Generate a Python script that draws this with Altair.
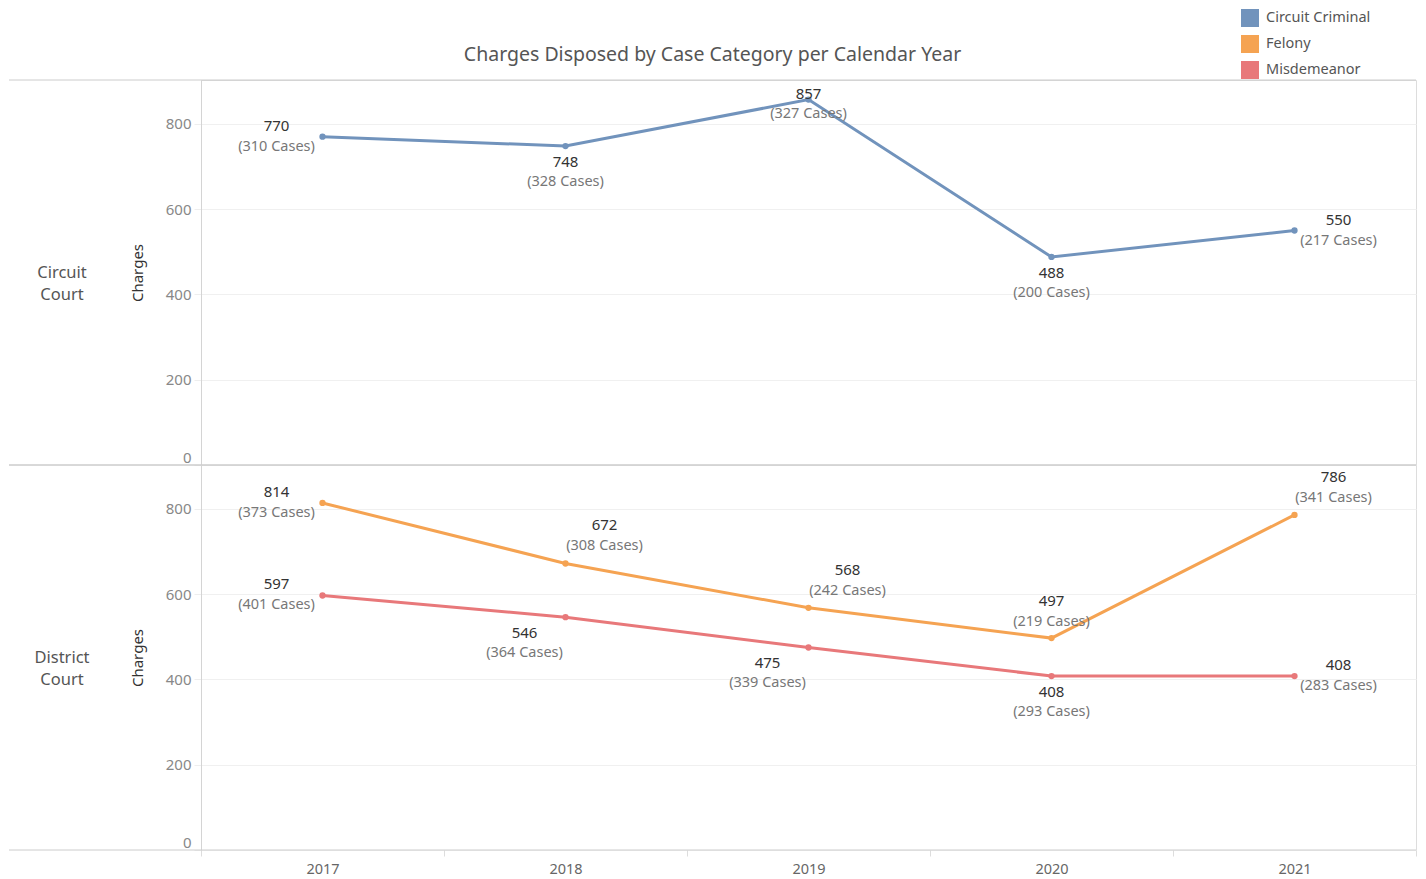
import altair as alt
import pandas as pd

# ---------------- data ----------------
years = ["2017", "2018", "2019", "2020", "2021"]

circuit_criminal_charges = [770, 748, 857, 488, 550]
circuit_criminal_cases = [310, 328, 327, 200, 217]

felony_charges = [814, 672, 568, 497, 786]
felony_cases = [373, 308, 242, 219, 341]

misdemeanor_charges = [597, 546, 475, 408, 408]
misdemeanor_cases = [401, 364, 339, 293, 283]

courts = ["Circuit Court", "District Court"]
series_names = ["Circuit Criminal", "Felony", "Misdemeanor"]
series_colors = ["#7193BC", "#F5A352", "#E8787A"]

# label placement per point (as in the reference)
circuit_criminal_pos = ["left", "below", "center", "below", "right"]
felony_pos = ["left", "above_right", "above_right", "above", "above_right"]
misdemeanor_pos = ["left", "below_left", "below_left", "below", "right"]

rows = []
for court, name, ch, cs, pos in [
    ("Circuit Court", "Circuit Criminal", circuit_criminal_charges, circuit_criminal_cases, circuit_criminal_pos),
    ("District Court", "Felony", felony_charges, felony_cases, felony_pos),
    ("District Court", "Misdemeanor", misdemeanor_charges, misdemeanor_cases, misdemeanor_pos),
]:
    for y, c, k, p in zip(years, ch, cs, pos):
        rows.append({"court": court, "series": name, "year": y, "charges": c, "cases": k, "pos": p})
df = pd.DataFrame(rows)

# ---------------- style ----------------
FONT = "Noto Sans"
W = 1215
H = 385
LEFT = 192
YMAX = 903

offsets = {
    "left": (-46, -11, 10),
    "right": (44, -11, 10),
    "below": (0, 16, 36),
    "below_left": (-41, 16, 36),
    "above": (0, -37, -16),
    "above_right": (39, -38, -17),
    "center": (0, -6, 14),
}

color = alt.Color(
    "series:N",
    scale=alt.Scale(domain=series_names, range=series_colors),
    legend=alt.Legend(
        title=None, orient="none", legendX=1040, legendY=-71,
        symbolType="square", symbolSize=324, symbolStrokeWidth=0, symbolOpacity=1,
        labelFont=FONT, labelFontSize=14.5, labelColor="#555555",
        rowPadding=8, labelOffset=7, padding=0,
    ),
)


def panel(court, bottom):
    d = df[df.court == court]
    base = alt.Chart(d)
    if bottom:
        xaxis = alt.Axis(
            title=None, labelAngle=0, labelFont=FONT, labelFontSize=14.5, labelColor="#666666",
            domain=False, ticks=True, tickColor="#dddddd", tickSize=6, tickBand="extent",
            labelPadding=6, grid=False,
        )
    else:
        xaxis = None
    x = alt.X("year:N", sort=years, scale=alt.Scale(type="band", paddingInner=0, paddingOuter=0), axis=xaxis)
    y = alt.Y(
        "charges:Q",
        scale=alt.Scale(domain=[0, YMAX], nice=False, zero=True),
        axis=alt.Axis(
            title="Charges", titleFont=FONT, titleFontSize=15, titleColor="#333333",
            titleFontWeight="normal", titlePadding=20,
            values=[0, 200, 400, 600, 800], labelFont=FONT, labelFontSize=15,
            labelColor="#888888", labelPadding=3, labelFlush=True, labelFlushOffset=0,
            tickColor="#eeeeee", tickSize=7,
            grid=True, gridColor="#f0f0f0",
            domain=True, domainColor="#d4d4d4",
        ),
    )
    line = base.mark_line(strokeWidth=3).encode(x=x, y=y, color=color, detail="series:N")
    pts = base.mark_circle(size=40, opacity=1).encode(
        x=x, y=y, color=alt.Color("series:N", scale=alt.Scale(domain=series_names, range=series_colors), legend=None)
    )
    layers = [line, pts]
    for pos, (dx, dy1, dy2) in offsets.items():
        sub = base.transform_filter(alt.datum.pos == pos)
        layers.append(
            sub.mark_text(dx=dx, dy=dy1, font=FONT, fontSize=15, color="#333333", align="center", baseline="middle")
            .encode(x=x, y=y, text="charges:Q")
        )
        layers.append(
            sub.transform_calculate(lab="'(' + datum.cases + ' Cases)'")
            .mark_text(dx=dx, dy=dy2, font=FONT, fontSize=14.5, color="#777777", align="center", baseline="middle")
            .encode(x=x, y=y, text="lab:N")
        )
    one = alt.Chart(pd.DataFrame({"court": [court]}))
    layers.append(
        one.mark_text(font=FONT, fontSize=16.5, color="#555555", lineBreak=" ", align="center", baseline="middle", lineHeight=22)
        .encode(x=alt.value(-139), y=alt.value(H / 2), text="court:N")
    )
    layers.append(one.mark_rule(color="#cccccc", strokeWidth=1).encode(x=alt.value(-LEFT), x2=alt.value(W), y=alt.value(0)))
    layers.append(one.mark_rule(color="#cccccc", strokeWidth=1).encode(x=alt.value(-LEFT), x2=alt.value(W), y=alt.value(H)))
    return alt.layer(*layers).properties(width=W, height=H)


chart = (
    alt.vconcat(panel("Circuit Court", False), panel("District Court", True), spacing=0, bounds="flush")
    .properties(
        title=alt.TitleParams(
            "Charges Disposed by Case Category per Calendar Year",
            anchor="middle", frame="bounds", font=FONT, fontSize=19.5, fontWeight="normal",
            color="#555555", offset=-56,
        ),
        padding={"left": 0, "top": 1, "right": 0, "bottom": 0},
    )
    .configure_view(stroke=None)
    .configure(background="white")
)

chart.save("out.html", embed_options={"renderer": "svg", "actions": False})
